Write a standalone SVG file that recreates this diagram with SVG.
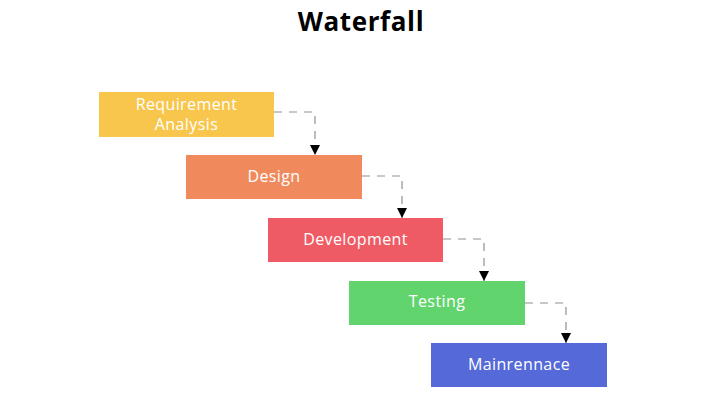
<svg xmlns="http://www.w3.org/2000/svg" width="710" height="400" viewBox="0 0 710 400">
<style>
.lbl{font-family:"Open Sans","Noto Sans","Liberation Sans",sans-serif;font-size:16px;letter-spacing:0.4px;fill:#ffffff;text-anchor:middle}
.title{font-family:"Open Sans","Noto Sans","Liberation Sans",sans-serif;font-size:26px;letter-spacing:0.6px;font-weight:bold;fill:#000;text-anchor:middle}
.conn{fill:none;stroke:#8f8f8f;stroke-width:1.2;stroke-dasharray:8,7}
</style>
<defs>
<marker id="arr" viewBox="0 0 10 10" refX="10" refY="5" markerWidth="10" markerHeight="10" markerUnits="userSpaceOnUse" orient="auto">
<path d="M0,0 L10,5 L0,10 z" fill="#000"/>
</marker>
</defs>
<rect width="710" height="400" fill="#fff"/>
<text class="title" x="361" y="31">Waterfall</text>
<g id="connectors">
<path class="conn" d="M274,112 H315 V155" marker-end="url(#arr)"/>
<path class="conn" d="M362,176 H402 V218" marker-end="url(#arr)"/>
<path class="conn" d="M443,239 H484 V281" marker-end="url(#arr)"/>
<path class="conn" d="M525,303 H566 V343" marker-end="url(#arr)"/>
</g>
<g id="requirement">
<rect x="99" y="92" width="175" height="45" fill="#F8C64C"/>
<text class="lbl" x="186.5" y="110">Requirement</text>
<text class="lbl" x="186.5" y="130">Analysis</text>
</g>
<g id="design">
<rect x="186" y="155" width="176" height="44" fill="#F08A5D"/>
<text class="lbl" x="274" y="182">Design</text>
</g>
<g id="development">
<rect x="268" y="218" width="175" height="44" fill="#EE5B65"/>
<text class="lbl" x="355.5" y="245">Development</text>
</g>
<g id="testing">
<rect x="349" y="281" width="176" height="44" fill="#62D46E"/>
<text class="lbl" x="437" y="307">Testing</text>
</g>
<g id="maintenance">
<rect x="431" y="343" width="176" height="44" fill="#5569D8"/>
<text class="lbl" x="519" y="370">Mainrennace</text>
</g>
</svg>
